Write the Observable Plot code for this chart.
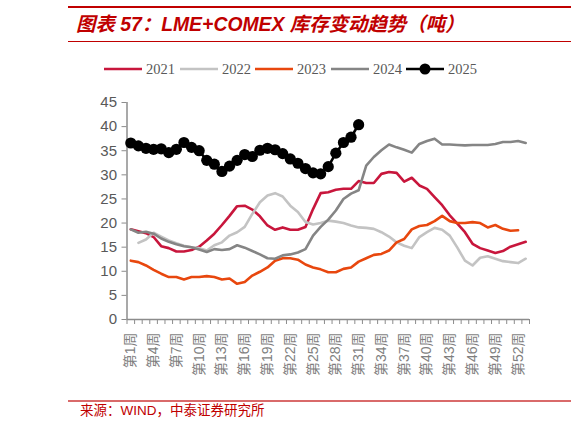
<!DOCTYPE html>
<html>
<head>
<meta charset="utf-8">
<script src="https://cdn.jsdelivr.net/npm/d3@7"></script>
<script src="https://cdn.jsdelivr.net/npm/@observablehq/plot@0.6"></script>
<style>
  html, body { margin: 0; padding: 0; background: #fff; }
  #wrap { position: relative; width: 571px; height: 431px; overflow: hidden; font-family: "Liberation Sans", "Noto Sans CJK SC", sans-serif; }
  .abs { position: absolute; }
  #title { left: 76px; top: 11px; font-size: 19.4px; font-weight: bold; font-style: italic; color: #c00000; white-space: nowrap; line-height: 26px; font-family: "Liberation Sans", "Noto Sans CJK SC", sans-serif; }
  .leg { position: absolute; top: 60px; height: 18px; display: flex; align-items: center; font-family: "Liberation Serif", "DejaVu Serif", serif; font-size: 14.5px; color: #595959; white-space: nowrap; }
  .leg svg { margin-right: 4px; }
  #caption { left: 80px; top: 402px; font-size: 13.5px; color: #c00000; white-space: nowrap; line-height: 18px; font-family: "Liberation Sans", "Noto Sans CJK SC", sans-serif; }
  #chart { left: 0; top: 90px; }
</style>
</head>
<body>
<div id="wrap">
  <div class="abs" style="left:68px; top:6px; width:503px; height:2px; background:#c00000;"></div>
  <div class="abs" id="title">图表 57：LME+COMEX 库存变动趋势（吨）</div>
  <div class="abs" style="left:68px; top:40.5px; width:503px; height:1px; background:#c00000;"></div>
  <div id="legend"></div>
  <div class="abs" id="chart"></div>
  <div class="abs" style="left:68px; top:400px; width:503px; height:1.5px; background:#d96a6a;"></div>
  <div class="abs" id="caption">来源：WIND，中泰证券研究所</div>
</div>
<script>
// ---- data (axis 0-45) ----
const years = ["2021", "2022", "2023", "2024", "2025"];
const colors = ["#c8163c", "#c3c3c3", "#e8470e", "#858585", "#000000"];
const yTicks = [0, 5, 10, 15, 20, 25, 30, 35, 40, 45];
const xLabelWeeks = [1, 4, 7, 10, 13, 16, 19, 22, 25, 28, 31, 34, 37, 40, 43, 46, 49, 52];

const s2021 = [18.7, 18.3, 17.9, 17.1, 15.2, 14.8, 14.1, 14.1, 14.4, 15.1,
               16.4, 17.8, 19.6, 21.5, 23.5, 23.6, 22.8, 21.4, 19.5, 18.6,
               19.1, 18.6, 18.6, 19.2, 22.9, 26.2, 26.4, 26.9, 27.1, 27.1,
               28.7, 28.3, 28.3, 30.2, 30.6, 30.4, 28.6, 29.4, 27.8, 27.1,
               25.4, 23.7, 21.6, 19.9, 18.1, 15.7, 14.8, 14.3, 13.8, 14.2,
               15.1, 15.6, 16.1];
const s2022 = [null, 15.9, 16.6, 18.0, 17.2, 16.4, 15.8, 15.3, 15.0, 14.8,
               14.3, 15.4, 16.0, 17.4, 18.1, 19.2, 21.9, 24.3, 25.7, 26.2,
               25.5, 23.6, 22.3, 20.2, 19.7, 20.0, 20.5, 20.3, 20.0, 19.5,
               19.1, 19.0, 18.8, 18.1, 17.2, 16.0, 15.3, 14.8, 17.1, 18.1,
               19.0, 18.6, 17.4, 14.9, 12.2, 11.2, 12.8, 13.1, 12.6, 12.1,
               11.9, 11.7, 12.6];
const s2023 = [12.2, 11.9, 11.2, 10.3, 9.5, 8.8, 8.8, 8.3, 8.8, 8.8,
               9.0, 8.8, 8.3, 8.5, 7.4, 7.8, 9.1, 9.9, 10.8, 12.2,
               12.7, 12.7, 12.4, 11.4, 10.8, 10.4, 9.8, 9.8, 10.5, 10.8,
               12.0, 12.7, 13.4, 13.6, 14.3, 16.0, 16.7, 18.7, 19.4, 19.6,
               20.4, 21.5, 20.4, 20.0, 20.0, 20.2, 20.0, 19.1, 19.6, 18.8,
               18.4, 18.5, null];
const s2024 = [18.7, 18.0, 18.2, 17.8, 16.8, 16.1, 15.6, 15.2, 15.0, 14.5,
               14.0, 14.6, 14.4, 14.6, 15.4, 14.9, 14.2, 13.5, 12.7, 12.6,
               13.3, 13.5, 13.9, 14.6, 17.4, 19.2, 20.7, 22.6, 25.0, 26.1,
               26.8, 31.9, 33.7, 35.1, 36.3, 35.7, 35.2, 34.6, 36.4, 37.0,
               37.5, 36.3, 36.3, 36.2, 36.1, 36.2, 36.2, 36.2, 36.4, 36.8,
               36.8, 37.0, 36.6];
const s2025 = [36.6, 36.0, 35.5, 35.3, 35.4, 34.6, 35.3, 36.7, 35.7, 35.0,
               33.0, 32.2, 30.7, 31.8, 33.0, 34.2, 33.8, 35.1, 35.5, 35.2,
               34.4, 33.3, 32.4, 31.3, 30.4, 30.2, 31.7, 34.5, 36.7, 37.8,
               40.4];

const seriesList = [s2021, s2022, s2023, s2024, s2025];
const rows = [];
seriesList.forEach((s, i) => {
  s.forEach((v, k) => { if (v != null) rows.push({year: years[i], week: k + 1, value: v}); });
});
const byYear = y => rows.filter(r => r.year === y);

// ---- legend ----
const legendX = [104, 180, 255, 331, 406];
const legend = document.getElementById("legend");
years.forEach((y, i) => {
  const d = document.createElement("div");
  d.className = "leg";
  d.style.left = legendX[i] + "px";
  const dot = y === "2025" ? `<circle cx="19" cy="9" r="5.5" fill="#000"/>` : "";
  d.innerHTML = `<svg width="38" height="18"><line x1="0" x2="38" y1="9" y2="9" stroke="${colors[i]}" stroke-width="2.6"/>${dot}</svg><span>${y}</span>`;
  legend.appendChild(d);
});

// ---- chart ----
const halfTicks = d3.range(0.5, 54, 1);
const fontStack = "Liberation Sans, Noto Sans CJK SC, sans-serif";
const plot = Plot.plot({
  width: 571,
  height: 300,
  marginLeft: 126.5,
  marginRight: 42,
  marginTop: 12,
  marginBottom: 71,
  style: {fontFamily: fontStack, background: "transparent", overflow: "visible"},
  x: {domain: [0.5, 53.5]},
  y: {domain: [0, 45]},
  marks: [
    Plot.axisY({ticks: yTicks, tickSize: 5, tickPadding: 5, stroke: "#8c8c8c", fill: "#595959", fontSize: 15, label: null}),
    Plot.axisX({ticks: halfTicks, tickSize: 5, tickFormat: () => "", stroke: "#8c8c8c", label: null}),
    Plot.axisX({ticks: xLabelWeeks, tickSize: 0, tickPadding: 13, tickRotate: -90,
                tickFormat: d => `第${d}周`, fill: "#7f7f7f", fontSize: 14, label: null}),
    Plot.ruleY([0], {stroke: "#8c8c8c", strokeWidth: 1.5}),
    Plot.ruleX([0.5], {stroke: "#8c8c8c", strokeWidth: 1.5}),
    ...years.map((y, i) => Plot.line(byYear(y), {x: "week", y: "value", stroke: colors[i], strokeWidth: 2.6, curve: "linear"})),
    Plot.dot(byYear("2025"), {x: "week", y: "value", r: 5.6, fill: "#000", stroke: "none"})
  ]
});
document.getElementById("chart").appendChild(plot);
</script>
</body>
</html>
